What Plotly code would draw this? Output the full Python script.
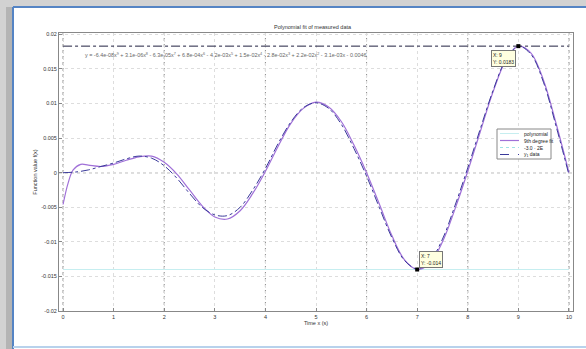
import plotly.graph_objects as go

# ---- data ----
x_fit = [0, 0.1, 0.2, 0.35, 0.5, 0.75, 1.0, 1.25, 1.5, 1.75, 2.0, 2.25, 2.5, 2.75, 3.0, 3.25, 3.5,
         3.75, 4.0, 4.25, 4.5, 4.75, 5.0, 5.25, 5.5, 5.75, 6.0, 6.25, 6.5, 6.75, 7.0, 7.25, 7.5,
         7.75, 8.0, 8.25, 8.5, 8.75, 9.0, 9.25, 9.5, 9.75, 10.0]
y_fit = [-0.0046, -0.0015, 0.0004, 0.0012, 0.0011, 0.0009, 0.0012, 0.0018, 0.0023, 0.0024, 0.0015,
         -0.0002, -0.0025, -0.0048, -0.0064, -0.0067, -0.0055, -0.0030, 0.0002, 0.0038, 0.0071,
         0.0093, 0.0102, 0.0095, 0.0074, 0.0040, 0.0000, -0.0045, -0.0091, -0.0126, -0.0140,
         -0.0131, -0.0100, -0.0052, 0.0002, 0.0060, 0.0117, 0.0162, 0.0183, 0.0173, 0.0133,
         0.0070, 0.0000]

x_data = [0, 0.25, 0.5, 0.75, 1.0, 1.25, 1.5, 1.75, 2.0, 2.25, 2.5, 2.75, 3.0, 3.25, 3.5, 3.75,
          4.0, 4.25, 4.5, 4.75, 5.0, 5.25, 5.5, 5.75, 6.0, 6.25, 6.5, 6.75, 7.0, 7.25, 7.5, 7.75,
          8.0, 8.25, 8.5, 8.75, 9.0, 9.25, 9.5, 9.75, 10.0]
y_data = [0.0000, 0.0001, 0.0004, 0.0009, 0.0014, 0.0020, 0.0024, 0.0021, 0.0010, -0.0008,
          -0.0030, -0.0050, -0.0061, -0.0062, -0.0050, -0.0025, 0.0006, 0.0042, 0.0073, 0.0094,
          0.0101, 0.0093, 0.0070, 0.0035, -0.0005, -0.0050, -0.0094, -0.0127, -0.0139, -0.0128,
          -0.0096, -0.0047, 0.0007, 0.0064, 0.0119, 0.0163, 0.0183, 0.0171, 0.0130, 0.0066, -0.0003]

x_ticks = [0, 1, 2, 3, 4, 5, 6, 7, 8, 9, 10]
y_ticks = [-0.02, -0.015, -0.01, -0.005, 0, 0.005, 0.01, 0.015, 0.02]
y_tick_text = ["-0.02", "-0.015", "-0.01", "-0.005", "0", "0.005", "0.01", "0.015", "0.02"]
major_x = [0, 2, 4, 6, 8, 10]

title_text = "Polynomial fit of measured data"
x_label = "Time x (s)"
y_label = "Function value f(x)"
equation = ("y = -6.4e-08x<sup>9</sup> + 3.1e-06x<sup>8</sup> - 6.3e-05x<sup>7</sup> + 6.8e-04x<sup>6</sup>"
            " - 4.2e-03x<sup>5</sup> + 1.5e-02x<sup>4</sup> - 2.8e-02x<sup>3</sup> + 2.2e-02x<sup>2</sup>"
            " - 3.1e-03x - 0.0046")
legend_names = ["polynomial", "9th degree fit", "-3.0 \u00b7 2E", "y<sub>1</sub> data"]

# ---- styles ----
FONT = "Liberation Sans, Arial, sans-serif"
styles = [dict(color="#c6eef0", width=1),
          dict(color="#a070d8", width=1.2),
          dict(color="#9fe3e6", width=1, dash="dot"),
          dict(color="#3a3a9a", width=1, dash="dash")]
max_line = dict(color="#202040", width=1, dash="dashdot")
data_line = dict(color="#3a3a9a", width=1, dash="dashdot")

# ---- derived ----
i_max = max(range(len(y_fit)), key=lambda i: y_fit[i])
i_min = min(range(len(y_fit)), key=lambda i: y_fit[i])
x_lo, x_hi = x_fit[0], x_fit[-1]

fig = go.Figure()
fig.add_trace(go.Scatter(x=[x_lo, x_hi], y=[y_fit[i_min]] * 2, mode="lines",
                         line=styles[0], name=legend_names[0], showlegend=False))
fig.add_trace(go.Scatter(x=x_fit, y=y_fit, mode="lines", line_shape="spline",
                         line=styles[1], name=legend_names[1], showlegend=False))
fig.add_trace(go.Scatter(x=[x_lo, x_hi], y=[y_fit[i_max]] * 2, mode="lines",
                         line=max_line, name=legend_names[2], showlegend=False))
fig.add_trace(go.Scatter(x=x_data, y=y_data, mode="lines", line_shape="spline",
                         line=data_line, name=legend_names[3], showlegend=False))
fig.add_trace(go.Scatter(x=[x_fit[i_max], x_fit[i_min]], y=[y_fit[i_max], y_fit[i_min]],
                         mode="markers", marker=dict(symbol="square", size=4, color="black"),
                         showlegend=False))

W, L, T, B = 514, 59, 33, 311
def px(xp):
    return (xp - L) / W
def py(yp):
    return (B - yp) / (B - T)

shapes = []
# window shadow (left and top strips only) + frame lines
shapes.append(dict(type="rect", xref="paper", yref="paper", x0=px(0), x1=px(13), y0=py(349), y1=py(0),
                   fillcolor="#d2d2d2", line_width=0, layer="below"))
shapes.append(dict(type="rect", xref="paper", yref="paper", x0=px(6), x1=px(13), y0=py(349), y1=py(4),
                   fillcolor="#b4b4b4", line_width=0, layer="below"))
shapes.append(dict(type="rect", xref="paper", yref="paper", x0=px(0), x1=px(586), y0=py(7), y1=py(0),
                   fillcolor="#d2d2d2", line_width=0, layer="below"))
shapes.append(dict(type="line", xref="paper", yref="paper", x0=px(13), x1=px(13), y0=py(349), y1=py(7),
                   line=dict(color="#5584c4", width=2), layer="below"))
shapes.append(dict(type="line", xref="paper", yref="paper", x0=px(13), x1=px(586), y0=py(7), y1=py(7),
                   line=dict(color="#5584c4", width=2), layer="below"))
shapes.append(dict(type="line", xref="paper", yref="paper", x0=px(13), x1=px(586), y0=py(347), y1=py(347),
                   line=dict(color="#b8d2ec", width=2), layer="below"))
# darker dotted lines at even x and y=0
for xv in major_x:
    shapes.append(dict(type="line", xref="x", yref="paper", x0=xv, x1=xv, y0=0, y1=1,
                       line=dict(color="#8a8a8a", width=1, dash="dot"), layer="below"))
shapes.append(dict(type="line", xref="paper", yref="y", x0=0, x1=1, y0=0, y1=0,
                   line=dict(color="#555555", width=1, dash="dot"), layer="below"))

# manual legend box
lx0, lx1, ly0 = 497, 551, 129
row_h = 7
shapes.append(dict(type="rect", xref="paper", yref="paper", x0=px(lx0), x1=px(lx1),
                   y0=py(ly0 + row_h * len(legend_names) + 2), y1=py(ly0),
                   fillcolor="white", line=dict(color="#888888", width=1)))
annotations = []
for k, name in enumerate(legend_names):
    yc = ly0 + 4.5 + row_h * k
    shapes.append(dict(type="line", xref="paper", yref="paper", x0=px(lx0 + 3), x1=px(lx0 + 22),
                       y0=py(yc), y1=py(yc), line=styles[k]))
    annotations.append(dict(text=name, xref="paper", yref="paper", x=px(lx0 + 25), y=py(yc),
                            xanchor="left", yanchor="middle", showarrow=False,
                            font=dict(size=5, color="#222222", family=FONT)))

annotations += [
    dict(text=title_text, xref="paper", yref="paper", x=px(313), y=py(27), yanchor="middle",
         showarrow=False, font=dict(size=5.5, color="#333333", family=FONT)),
    dict(text=equation, xref="x", yref="y", x=0.4, y=0.0170, xanchor="left", showarrow=False,
         font=dict(size=5.4, color="#666666", family=FONT)),
    dict(text="X: %.3g<br>Y: %.4g" % (x_fit[i_max], y_fit[i_max]), x=x_fit[i_max], y=y_fit[i_max],
         xref="x", yref="y", showarrow=False, xanchor="right", yanchor="top", xshift=-2, yshift=-4,
         bgcolor="#ffffe0", bordercolor="#777777", borderwidth=1, borderpad=1, align="left",
         font=dict(size=5, color="#222222", family=FONT)),
    dict(text="X: %.3g<br>Y: %.4g" % (x_fit[i_min], y_fit[i_min]), x=x_fit[i_min], y=y_fit[i_min],
         xref="x", yref="y", showarrow=False, xanchor="left", yanchor="bottom", xshift=2, yshift=2,
         bgcolor="#ffffe0", bordercolor="#777777", borderwidth=1, borderpad=1, align="left",
         font=dict(size=5, color="#222222", family=FONT)),
]

fig.update_layout(
    width=586, height=349,
    margin=dict(l=L, r=586 - L - W, t=T, b=349 - B),
    paper_bgcolor="white", plot_bgcolor="white",
    font=dict(family=FONT, size=6, color="#333333"),
    shapes=shapes, annotations=annotations,
    showlegend=False,
)
fig.update_xaxes(range=[-0.08, 10.08], tickvals=x_ticks, ticktext=[str(t) for t in x_ticks],
                 showline=True, linecolor="#888888", mirror=True, ticks="inside", ticklen=3,
                 tickcolor="#888888", showgrid=True, gridcolor="#dddddd", griddash="dot",
                 zeroline=False, tickfont=dict(size=5.5), title=dict(text=x_label, font=dict(size=5.5),
                 standoff=1))
fig.update_yaxes(range=[-0.02, 0.0202], tickvals=y_ticks, ticktext=y_tick_text,
                 showline=True, linecolor="#888888", mirror=True, ticks="inside", ticklen=3,
                 tickcolor="#888888", showgrid=True, gridcolor="#dddddd", griddash="dot",
                 zeroline=False, tickfont=dict(size=5.5), title=dict(text=y_label, font=dict(size=5.5),
                 standoff=3))

fig.write_html("out.html")
